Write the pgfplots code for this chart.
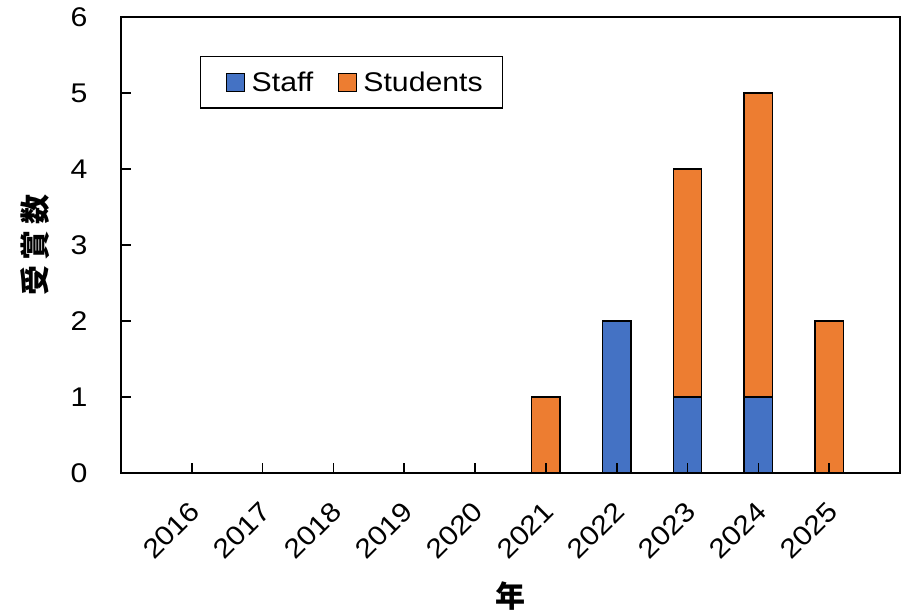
\documentclass[border=0pt]{standalone}
\usepackage{pgfplots}
\pgfplotsset{compat=1.18}
\usepackage{fontspec}
\setmainfont{Liberation Sans}[FakeStretch=1.12]
\newfontfamily\cjk{Noto Sans CJK JP}
\usetikzlibrary{calc}

\definecolor{staffblue}{HTML}{4472C4}
\definecolor{studorange}{HTML}{ED7D31}

\pgfplotsset{
  sqlegend/.style={legend image code/.code={%
      \path[draw=none, fill=none] (0bp,-9bp) rectangle (31bp,9bp);
      \draw[##1, draw=black, line width=1.3bp] (8bp,-9bp) rectangle (26bp,9bp);}},
}

\begin{document}
\begin{tikzpicture}
\begin{axis}[
  name=ax,
  scale only axis,
  width=779bp, height=456bp,
  ybar stacked,
  bar width=0.4,
  xmin=-1, xmax=10,
  ymin=0, ymax=6,
  xtick={0,1,2,3,4,5,6,7,8,9},
  xticklabels={2016,2017,2018,2019,2020,2021,2022,2023,2024,2025},
  ytick={0,1,2,3,4,5,6},
  tick align=inside,
  xtick pos=bottom, ytick pos=left,
  major tick length=10bp,
  axis line style={line width=1.6bp, black},
  every tick/.style={line width=1.6bp, black},
  axis on top,
  /pgf/number format/assume math mode=true,
  tick label style={font=\fontsize{27bp}{31bp}\selectfont},
  yticklabel style={xshift=-30bp},
  xticklabel style={rotate=45, anchor=north east, xshift=-18bp, yshift=-13bp},
  xlabel={\fontsize{30bp}{34bp}\selectfont\cjk\bfseries 年},
  ylabel={\fontsize{30bp}{34bp}\selectfont\cjk\bfseries 受\kern6bp 賞\kern6bp 数},
  every axis x label/.style={at={(axis description cs:0.5,-0.27)}, anchor=center},
  every axis y label/.style={at={(axis description cs:-0.110,0.5)}, anchor=center, rotate=90},
  legend columns=2,
  legend cell align=left,
  legend style={
    at={(axis description cs:0.1014,0.9145)}, anchor=north west,
    draw=black, line width=1.5bp,
    font=\fontsize{27bp}{31bp}\selectfont,
    inner xsep=18bp, inner ysep=13bp,
    /tikz/every even column/.append style={column sep=15bp},
  },
]
\addplot[fill=staffblue, draw=black, line width=1.5bp, sqlegend]
  coordinates {(0,0) (1,0) (2,0) (3,0) (4,0) (5,0) (6,2) (7,1) (8,1) (9,0)};
\addlegendentry{Staff}
\addplot[fill=studorange, draw=black, line width=1.5bp, sqlegend]
  coordinates {(0,0) (1,0) (2,0) (3,0) (4,0) (5,1) (6,0) (7,3) (8,4) (9,2)};
\addlegendentry{Students}
\end{axis}
\pgfresetboundingbox
\path ($(ax.south west)+(-121bp,-143bp)$) rectangle ($(ax.north east)+(8bp,17bp)$);
\end{tikzpicture}
\end{document}
